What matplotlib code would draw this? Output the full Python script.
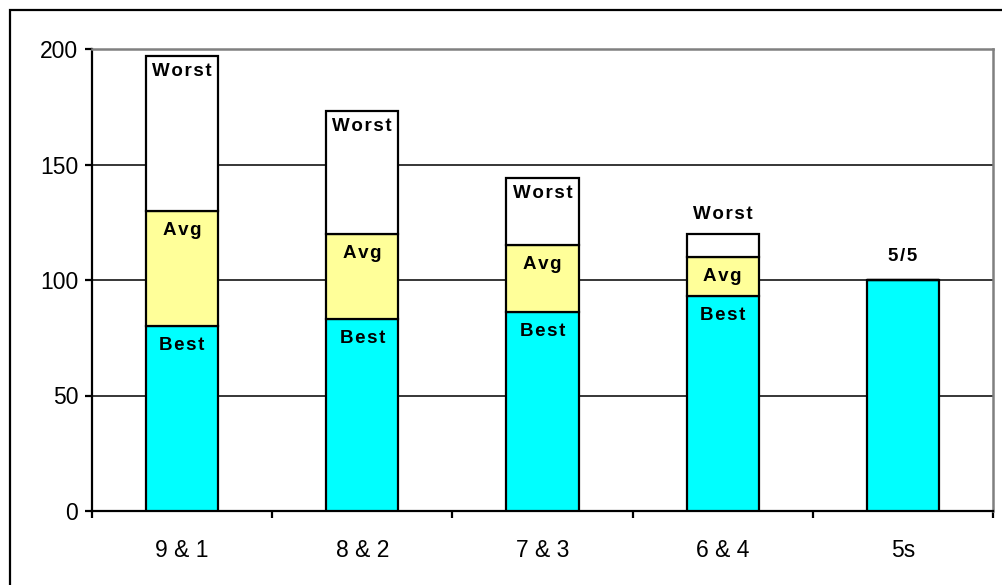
import numpy as np
import matplotlib
matplotlib.use("Agg")
import matplotlib.pyplot as plt
from matplotlib.patches import Rectangle

plt.rcParams['font.family'] = ['Liberation Sans', 'DejaVu Sans']

# 数据
categories = ['9 & 1', '8 & 2', '7 & 3', '6 & 4', '5s']
best = [80, 83, 86, 93, 100]
avg_top = [130, 120, 115, 110, 100]
worst_top = [197, 173, 144, 120, 100]
yticks = [0, 50, 100, 150, 200]

best = np.array(best, dtype=float)
avg_seg = np.array(avg_top, dtype=float) - best
worst_seg = np.array(worst_top, dtype=float) - np.array(avg_top, dtype=float)

fig = plt.figure(figsize=(10.02, 5.85), dpi=100)
ax = fig.add_axes([92 / 1002, 1 - 511 / 585, (993 - 92) / 1002, (511 - 49) / 585])

# 外框
fig.patches.append(Rectangle((10 / 1002, -0.2), 1.2, 1.2 - 10 / 585,
                             transform=fig.transFigure, fill=False,
                             edgecolor='black', linewidth=1.6))

x = np.arange(len(categories))
w = 0.4
kw = dict(width=w, edgecolor='black', linewidth=1.6, zorder=3)
ax.bar(x, best, color='#00FFFF', **kw)
ax.bar(x, avg_seg, bottom=best, color='#FFFF99', **kw)
ax.bar(x, worst_seg, bottom=np.array(avg_top), color='white', **kw)

lab = dict(ha='center', va='center', fontsize=13.5, fontweight='bold',
           textcoords='offset points', zorder=5)


def spaced(s):
    return '\u200a'.join(s)


for i in range(len(categories)):
    if avg_seg[i] > 0:
        ax.annotate(spaced('Best'), (x[i], best[i]), xytext=(0, -14), **lab)
        ax.annotate(spaced('Avg'), (x[i], avg_top[i]), xytext=(0, -14), **lab)
        if worst_seg[i] > 15:
            ax.annotate(spaced('Worst'), (x[i], worst_top[i]), xytext=(0, -11), **lab)
        else:
            ax.annotate(spaced('Worst'), (x[i], worst_top[i]), xytext=(0, 14), **lab)
    else:
        ax.annotate(spaced('5/5'), (x[i], best[i]), xytext=(0, 17), **lab)

ax.set_xlim(-0.5, len(categories) - 0.5)
ax.set_ylim(0, 200)
ax.set_yticks(yticks)
ax.set_yticklabels([str(v) for v in yticks], fontsize=16.5)
ax.set_xticks(x)
ax.set_xticklabels(categories, fontsize=16.5)
ax.set_xticks(np.arange(len(categories) + 1) - 0.5, minor=True)
ax.tick_params(axis='x', which='major', length=0, pad=20)
ax.tick_params(axis='x', which='minor', length=5, width=1.6, direction='out')
ax.tick_params(axis='y', length=5, width=1.6, direction='out', pad=5)

ax.grid(axis='y', color='black', linewidth=1.1, zorder=0)
ax.set_axisbelow(True)

for s in ['left', 'bottom']:
    ax.spines[s].set_linewidth(1.6)
    ax.spines[s].set_color('black')
for s in ['top', 'right']:
    ax.spines[s].set_linewidth(1.8)
    ax.spines[s].set_color('#808080')

fig.savefig('out.png', dpi=100)
